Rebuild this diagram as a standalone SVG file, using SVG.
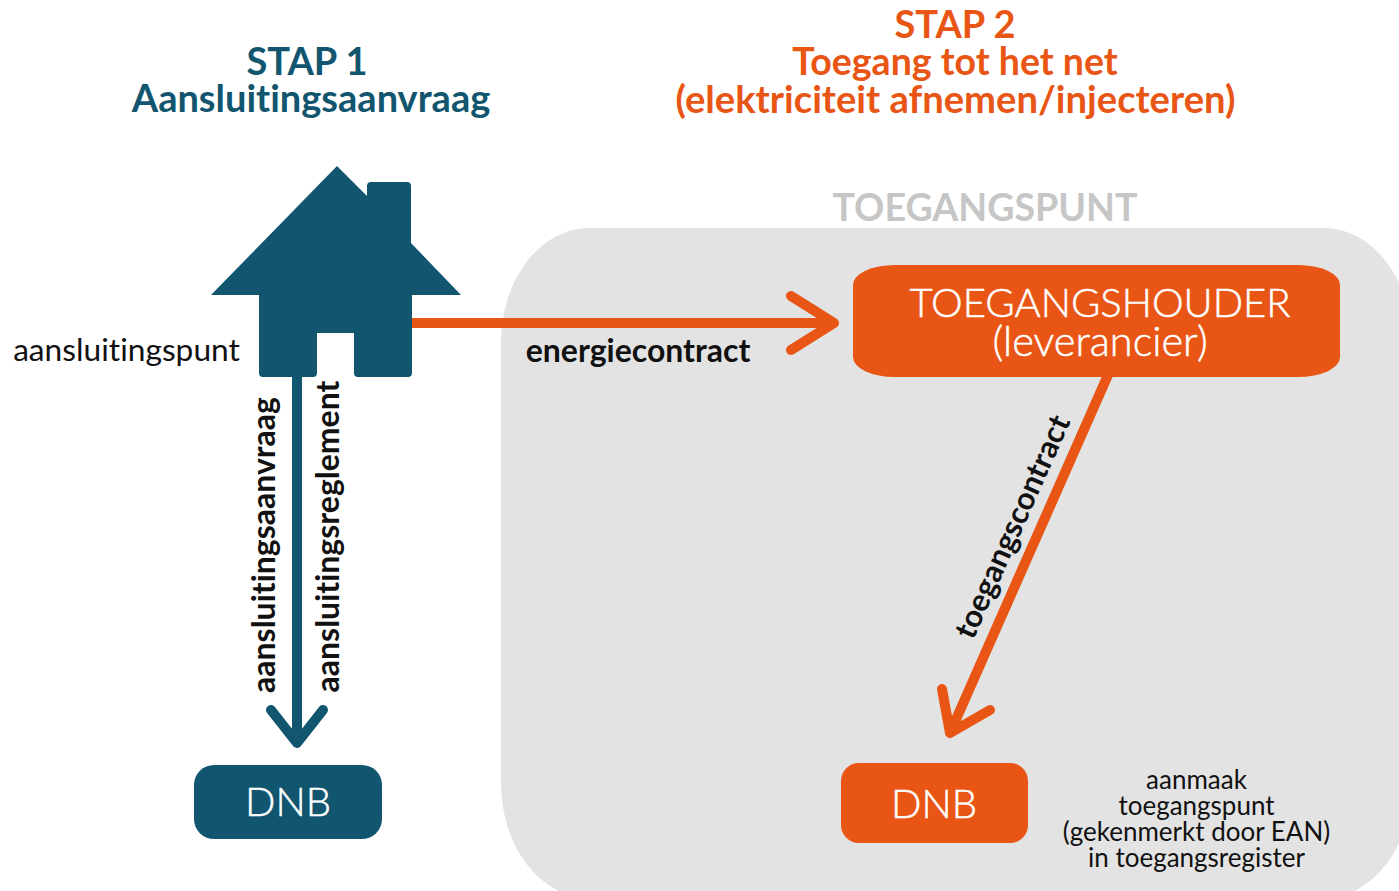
<svg xmlns="http://www.w3.org/2000/svg" width="1399" height="891" viewBox="0 0 1399 891">
<style>
text{font-family:Lato,"Noto Sans",sans-serif;text-anchor:middle;font-variant-ligatures:none}
.t{font-size:38px;font-weight:700}
.b{fill:#12556f}.o{fill:#e95514}
.l{font-size:32px;font-weight:700;fill:#111}
.s{font-size:26px;fill:#111}
.w{fill:#fff;font-size:40px;font-weight:300;stroke:#fff;stroke-width:.5}
.ln{fill:none;stroke-width:10;stroke-linecap:round;stroke-linejoin:round}
</style>
<rect width="1399" height="891" fill="#fff"/>
<g id="titles">
<text class="t b" x="307" y="75">STAP 1</text>
<text class="t b" x="311" y="112">Aansluitingsaanvraag</text>
<text class="t o" x="955" y="37.500">STAP 2</text>
<text class="t o" x="955" y="75" style="font-size:37.500px">Toegang tot het net</text>
<text class="t o" x="955.500" y="113" style="font-size:38.200px">(elektriciteit afnemen/injecteren)</text>
</g>
<g id="toegangspunt">
<rect x="501" y="228" width="911" height="670" rx="88" ry="115" fill="#e3e3e3"/>
<text x="985" y="221" font-size="37.500" font-weight="700" fill="#c6c6c6">TOEGANGSPUNT</text>
</g>
<g id="connectors">
<path class="ln" stroke="#12556f" d="M297 375V743M271 710L297 743L323 710"/>
<path class="ln" stroke="#e95514" d="M410 323H832M791 296L834 323L791 350"/>
<path class="ln" stroke="#e95514" d="M1108 375L950 733M942 689L950 733L990 710"/>
</g>
<g id="huis">
<path class="b" d="M337 166L367 196V186Q367 182 371 182H407Q411 182 411 186V243L461 295H412V373Q412 377 408 377H358Q354 377 354 373V333H317V373Q317 377 313 377H263Q259 377 259 373V295H211Z"/>
<text x="126.500" y="361" class="s" style="font-size:31.700px">aansluitingspunt</text>
</g>
<g id="dnb1">
<rect class="b" x="194" y="765" width="188" height="74" rx="20"/>
<text class="w" x="288" y="816">DNB</text>
</g>
<g id="toegangshouder">
<rect class="o" x="853" y="265" width="487" height="112" rx="42" ry="20"/>
<text class="w" x="1100" y="317">TOEGANGSHOUDER</text>
<text class="w" x="1100" y="356" style="font-size:41.500px">(leverancier)</text>
</g>
<g id="dnb2">
<rect class="o" x="841" y="763" width="187" height="80" rx="18"/>
<text class="w" x="934" y="818">DNB</text>
</g>
<g id="labels">
<text class="l" x="638" y="362">energiecontract</text>
<text class="l" transform="translate(275 545) rotate(-90)">aansluitingsaanvraag</text>
<text class="l" transform="translate(338.500 536.500) rotate(-90)">aansluitingsreglement</text>
<text class="l" transform="translate(1022 531) rotate(-66)" style="font-size:31px">toegangscontract</text>
<text class="s" x="1196.500" y="789">aanmaak</text>
<text class="s" x="1196.500" y="815">toegangspunt</text>
<text class="s" x="1196.500" y="841">(gekenmerkt door EAN)</text>
<text class="s" x="1196.500" y="867">in toegangsregister</text>
</g>
</svg>
